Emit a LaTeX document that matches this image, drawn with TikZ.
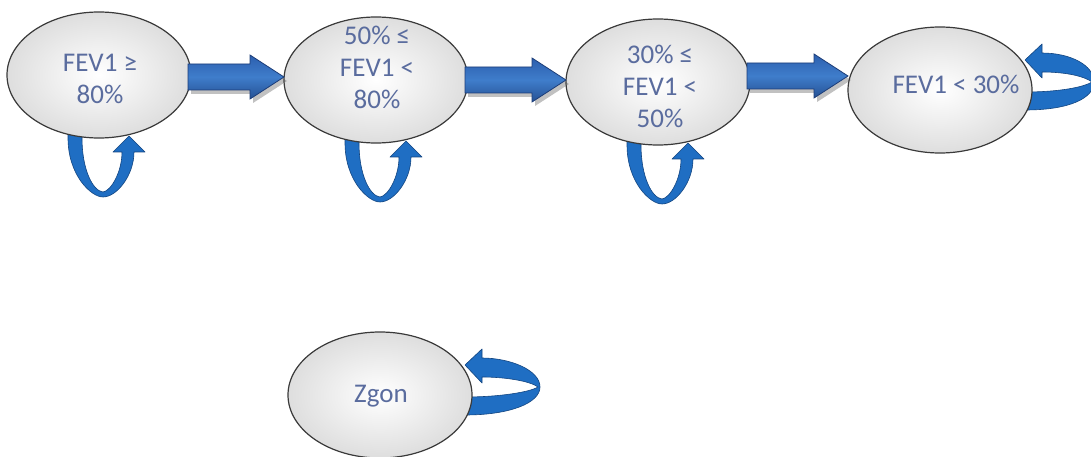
\documentclass[tikz,border=0pt]{standalone}
\usepackage{fontspec}
\setmainfont{Carlito}
\usetikzlibrary{shapes.geometric,calc,shadows,backgrounds}

\definecolor{txtblue}{HTML}{5A6C9E}
\definecolor{arrowblue}{HTML}{2C5FAE}
\definecolor{arrowlight}{HTML}{3F7DCB}
\definecolor{arrowedge}{HTML}{1D3D78}
\definecolor{loopblue}{HTML}{1F6EC3}
\definecolor{loopedge}{HTML}{134580}
\definecolor{stateedge}{HTML}{3A3A3A}

\tikzset{
  state/.style={ellipse, draw=stateedge, line width=1.2pt,
    minimum width=184pt, minimum height=126pt, inner sep=0pt, outer sep=0pt,
    inner color=white, outer color=black!13},
  statetext/.style={text=txtblue, align=center,
    font=\fontsize{27}{32}\selectfont},
  loopstyle/.style={fill=loopblue, draw=loopedge, line width=0.6pt, line join=round},
  arrowstyle/.style={top color=arrowblue, bottom color=arrowblue!85!black,
    middle color=arrowlight, draw=arrowedge, line width=0.8pt,
    drop shadow={shadow xshift=3pt, shadow yshift=-4pt, opacity=0.35, fill=black!70}},
  % ribbon loop hanging under a state, arrowhead pointing back up
  pics/downloop/.style={code={
    \path[loopstyle] (-31,40) -- (-31,63)
      .. controls (-31,100) and (-8,122) .. (4,122)
      .. controls (18,122) and (35,100) .. (35,77)
      -- (46,77) -- (30,61) -- (14,77) -- (23,77)
      .. controls (23,97) and (12,116) .. (4,117)
      .. controls (-6,116) and (-17,95) .. (-17,63)
      -- (-17,40) -- cycle;
  }},
  % ribbon loop on the right of a state, arrowhead pointing back left
  pics/sideloop/.style={code={
    \path[loopstyle] (70,2) -- (85,2)
      .. controls (120,2) and (#1-8,-3) .. (#1,-8)
      .. controls (#1-8,-14) and (125,-18) .. (102,-18)
      -- (102,-12) -- (85,-30) -- (102,-46) -- (102,-37)
      .. controls (130,-37) and (#1+2,-25) .. (#1+2,-8)
      .. controls (#1+2,8) and (130,20) .. (85,20)
      -- (70,20) -- cycle;
  }}
}

% block arrow from the east side of #1 to the west side of #2, shifted down by #3
\newcommand\blockarrow[3]{%
  \path[arrowstyle] let \p1=($(#1.east)+(0,#3)$), \p2=(#2.west) in
    (\x1-3pt,\y1+13pt) -- (\x2-34pt,\y1+13pt) -- (\x2-34pt,\y1+22pt)
    -- (\x2,\y1) -- (\x2-34pt,\y1-22pt) -- (\x2-34pt,\y1-13pt)
    -- (\x1-3pt,\y1-13pt) -- cycle;}

\begin{document}
\begin{tikzpicture}[x=1pt,y=-1pt]
  \useasboundingbox (0,0) rectangle (1091,457);
  \clip (0,0) rectangle (1091,457);

  % states
  \node[state] (e1) at (99,75) {};
  \node[state] (e2) at (376,80) {};
  \node[state] (e3) at (658,82) {};
  \node[state] (e4) at (940,90) {};
  \node[state] (e5) at (380,395) {};

  % labels
  \node[statetext] (t1) at (100,79) {FEV1 ≥\\80\%};
  \node[statetext] (t2) at (377,67) {50\% ≤\\FEV1 <\\80\%};
  \node[statetext] (t3) at (660,86) {30\% ≤\\FEV1 <\\50\%};
  \node[statetext] (t4) at (956,84) {FEV1 < 30\%};
  \node[statetext] (t5) at (381,396) {Zgon};

  % self transitions, behind the states
  \begin{scope}[on background layer]
    \pic at (e1.center) {downloop};
    \pic at (e2.center) {downloop};
    \pic at (e3.center) {downloop};
    \pic at (e4.center) {sideloop=152};
    \pic at (e5.center) {sideloop=158};
  \end{scope}

  % transitions between states
  \blockarrow{e1}{e2}{2}
  \blockarrow{e2}{e3}{0}
  \blockarrow{e3}{e4}{-6}
\end{tikzpicture}
\end{document}
